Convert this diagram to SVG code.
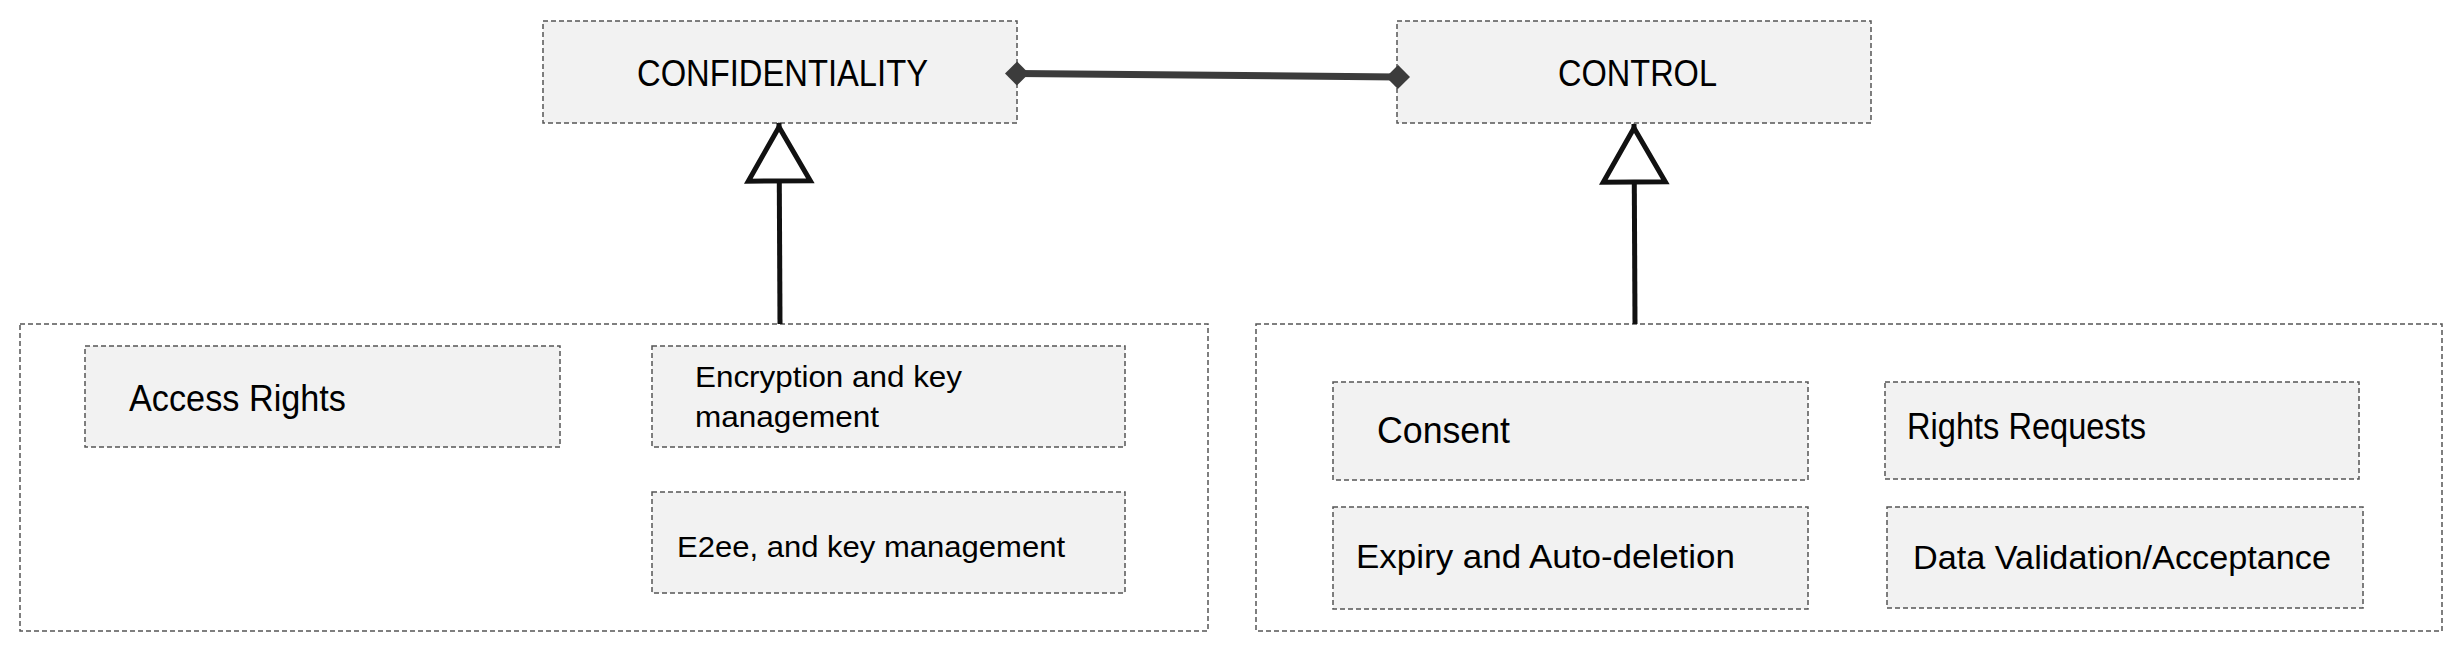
<svg xmlns="http://www.w3.org/2000/svg" width="2464" height="646" viewBox="0 0 2464 646">
  <style>
    .box { fill: #f2f2f2; stroke: #555555; stroke-width: 1.5; stroke-dasharray: 5 3; }
    .frame { fill: none; stroke: #555555; stroke-width: 1.5; stroke-dasharray: 5 3; }
    text { font-family: "Liberation Sans", Arial, sans-serif; fill: #000000; }
    .big { font-size: 36px; }
    .mid { font-size: 34px; }
    .small { font-size: 30px; }
    .assoc { stroke: #3c3c3c; stroke-width: 7; fill: none; }
    .inherit { stroke: #111111; stroke-width: 5; fill: none; }
  </style>
  <defs>
    <marker id="diamond" markerUnits="userSpaceOnUse" markerWidth="30" markerHeight="30" refX="0" refY="0" viewBox="-15 -15 30 30" orient="auto" overflow="visible">
      <path d="M-12,0 L0,-12 L12,0 L0,12 Z" fill="#3c3c3c"/>
    </marker>
    <marker id="hollowTri" markerUnits="userSpaceOnUse" markerWidth="80" markerHeight="80" refX="0" refY="0" viewBox="-70 -40 80 80" orient="auto" overflow="visible">
      <path d="M-4,0 L-58,-31 L-58,31 Z" fill="#ffffff" stroke="#111111" stroke-width="5" stroke-linejoin="miter"/>
    </marker>
  </defs>

  <g id="confidentiality">
    <rect class="box" x="543" y="21" width="474" height="102"/>
    <text class="big" x="637" y="86" textLength="291" lengthAdjust="spacingAndGlyphs">CONFIDENTIALITY</text>
  </g>
  <g id="control">
    <rect class="box" x="1397" y="21" width="474" height="102"/>
    <text class="big" x="1558" y="86" textLength="159" lengthAdjust="spacingAndGlyphs">CONTROL</text>
  </g>

  <g id="confidentiality-group">
    <rect class="frame" x="20" y="324" width="1188" height="307"/>
  </g>
  <g id="access-rights">
    <rect class="box" x="85" y="346" width="475" height="101"/>
    <text class="big" x="129" y="411" textLength="217" lengthAdjust="spacingAndGlyphs">Access Rights</text>
  </g>
  <g id="encryption">
    <rect class="box" x="652" y="346" width="473" height="101"/>
    <text class="small" x="695" y="386.5" textLength="267" lengthAdjust="spacingAndGlyphs">Encryption and key</text>
    <text class="small" x="695" y="426.5" textLength="184" lengthAdjust="spacingAndGlyphs">management</text>
  </g>
  <g id="e2ee">
    <rect class="box" x="652" y="492" width="473" height="101"/>
    <text class="small" x="677" y="556.5" textLength="388" lengthAdjust="spacingAndGlyphs">E2ee, and key management</text>
  </g>

  <g id="control-group">
    <rect class="frame" x="1256" y="324" width="1186" height="307"/>
  </g>
  <g id="consent">
    <rect class="box" x="1333" y="382" width="475" height="98"/>
    <text class="big" x="1377" y="442.5" textLength="133" lengthAdjust="spacingAndGlyphs">Consent</text>
  </g>
  <g id="rights-requests">
    <rect class="box" x="1885" y="382" width="474" height="97"/>
    <text class="big" x="1907" y="438.5" textLength="239" lengthAdjust="spacingAndGlyphs">Rights Requests</text>
  </g>
  <g id="expiry">
    <rect class="box" x="1333" y="507" width="475" height="102"/>
    <text class="mid" x="1356" y="567.5" textLength="379" lengthAdjust="spacingAndGlyphs">Expiry and Auto-deletion</text>
  </g>
  <g id="data-validation">
    <rect class="box" x="1887" y="507" width="476" height="101"/>
    <text class="mid" x="1913" y="568.5" textLength="418" lengthAdjust="spacingAndGlyphs">Data Validation/Acceptance</text>
  </g>

  <g id="connectors">
    <line class="assoc" x1="1017" y1="73.5" x2="1398" y2="77" marker-start="url(#diamond)" marker-end="url(#diamond)"/>
    <line class="inherit" x1="780" y1="324" x2="779" y2="123" marker-end="url(#hollowTri)"/>
    <line class="inherit" x1="1635" y1="324" x2="1634" y2="124" marker-end="url(#hollowTri)"/>
  </g>
</svg>
